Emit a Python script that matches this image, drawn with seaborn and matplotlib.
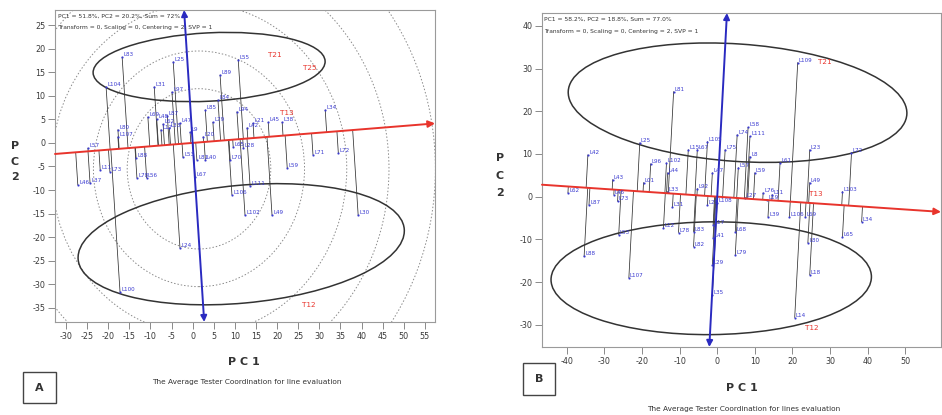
import numpy as np
import pandas as pd
import matplotlib
matplotlib.use("Agg")
import matplotlib.pyplot as plt
from matplotlib.patches import Ellipse, Circle, Rectangle
import seaborn as sns

sns.set_theme(style="white")
plt.rcParams['font.family'] = ['DejaVu Sans']
plt.rcParams['axes.unicode_minus'] = False

# ---------------- Panel A data ----------------
a_names = ["L83", "L104", "L25", "L31", "L97", "L89", "L55", "L84", "L94", "L34",
           "L80", "L107", "L69", "L48", "L62", "L87", "L17", "L33", "L47", "L9",
           "L85", "L79", "L20", "L42", "L21", "L45", "L38", "L71", "L72", "L59",
           "L70", "L65", "L28", "L111", "L106", "L40", "L53", "L67", "L81", "L88",
           "L78", "L56", "L73", "L11", "L57", "L46", "L37", "L102", "L49", "L30",
           "L24", "L100"]
a_x = [-16.7, -20.5, -4.6, -9.1, -4.9, 6.5, 10.8, 6.0, 10.5, 31.4,
       -17.7, -17.7, -10.6, -8.5, -7.0, -6.0, -7.5, -5.5, -3.0, -0.6,
       3.0, 4.8, 2.5, 12.9, 14.3, 17.9, 21.2, 28.5, 34.5, 22.4,
       8.9, 9.6, 12.0, 13.6, 9.3, 3.0, -2.3, 0.6, 1.0, -13.4,
       -13.2, -10.9, -19.6, -21.9, -24.8, -27.2, -24.3, 12.4, 18.8, 39.2,
       -3.0, -17.2]
a_y = [18.2, 11.9, 17.2, 11.9, 10.8, 14.4, 17.6, 9.1, 6.6, 7.0,
       2.8, 1.3, 5.5, 5.0, 4.0, 5.8, 2.8, 3.2, 4.2, 2.3,
       7.0, 4.4, 1.3, 3.2, 4.2, 4.4, 4.4, -2.5, -2.1, -5.3,
       -3.6, -0.8, -1.1, -9.1, -11.0, -3.6, -3.0, -7.2, -3.6, -3.1,
       -7.4, -7.4, -6.1, -5.7, -1.1, -8.9, -8.5, -15.3, -15.3, -15.3,
       -22.3, -31.6]
a_testers = ["T21", "T25", "T13", "T12"]
a_tx = [17.9, 26.2, 20.7, 25.9]
a_ty = [18.6, 15.9, 6.4, -34.3]
a_slope = 0.072
a_xlim = (-32.6, 57.4)
a_ylim = (-38.0, 28.2)
a_xticks = list(range(-30, 60, 5))
a_yticks = list(range(-35, 30, 5))
a_ell_cx = [3.9, 11.5]
a_ell_cy = [16.1, -21.5]
a_ell_w = [55.0, 77.5]
a_ell_h = [14.5, 25.0]
a_ell_ang = [2.6, 4.7]
a_circ_center = (1.5, -5.5)
a_circ_r = [17, 25, 35, 45, 56]
a_header = ["PC1 = 51.8%, PC2 = 20.2%, Sum = 72%",
            "Transform = 0, Scaling = 0, Centering = 2, SVP = 1"]
a_caption = "The Average Tester Coordination for line evaluation"

# ---------------- Panel B data ----------------
b_names = ["L109", "L81", "L25", "L42", "L58", "L74", "L111", "L105", "L75", "L15",
           "L67", "L23", "L72", "L61", "L8", "L96", "L102", "L44", "L47", "L59",
           "L57", "L43", "L01", "L49", "L62", "L46", "L73", "L103", "L92", "L33",
           "L76", "L11", "L87", "L31", "L108", "L28", "L27", "L19", "L39", "L106",
           "L69", "L34", "L53", "L12", "L78", "L83", "L82", "L17", "L41", "L68",
           "L79", "L65", "L80", "L18", "L88", "L107", "L29", "L35", "L14"]
b_x = [21.4, -11.6, -20.6, -34.4, 8.2, 5.3, 8.7, -2.6, 2.1, -7.7,
       -5.3, 24.6, 35.7, 16.7, 8.7, -17.7, -13.5, -13.2, -1.3, 10.0,
       5.6, -27.8, -19.6, 24.6, -39.7, -27.5, -26.5, 33.3, -5.3, -13.2,
       12.2, 14.6, -34.1, -11.9, 0.0, -2.6, 7.4, 13.2, 13.5, 19.2,
       23.4, 38.4, -26.2, -14.3, -10.3, -6.3, -6.3, -1.1, -1.1, 4.8,
       4.8, 33.3, 24.1, 24.6, -35.4, -23.5, -1.3, -1.3, 20.6]
b_y = [31.4, 24.6, 12.6, 9.8, 16.2, 14.5, 14.1, 12.9, 11.0, 11.0,
       11.0, 11.0, 10.3, 7.9, 9.4, 7.7, 7.9, 5.6, 5.6, 5.6,
       6.8, 4.0, 3.3, 3.3, 0.9, 0.5, -1.1, 1.2, 1.9, 1.2,
       0.9, 0.5, -1.9, -2.4, -1.4, -1.9, -0.2, -0.7, -4.7, -4.7,
       -4.7, -5.9, -8.9, -7.3, -8.4, -8.2, -11.7, -6.6, -9.6, -8.2,
       -13.6, -9.4, -10.8, -18.3, -14.0, -19.0, -15.9, -23.0, -28.3]
b_testers = ["T21", "T13", "T12"]
b_tx = [26.7, 24.3, 23.3]
b_ty = [31.6, 0.6, -30.7]
b_slope = -0.06
b_xlim = (-46.6, 59.5)
b_ylim = (-35.2, 43.0)
b_xticks = list(range(-40, 60, 10))
b_yticks = list(range(-30, 50, 10))
b_ell_cx = [5.4, -1.6]
b_ell_cy = [22.0, -19.1]
b_ell_w = [90.2, 85.2]
b_ell_h = [27.5, 26.4]
b_ell_ang = [-3.4, 0.5]
b_header = ["PC1 = 58.2%, PC2 = 18.8%, Sum = 77.0%",
            "Transform = 0, Scaling = 0, Centering = 2, SVP = 1"]
b_caption = "The Average Tester Coordination for lines evaluation"

W, H = 942, 415
fig = plt.figure(figsize=(W / 100, H / 100), dpi=100)

def fx(px):
    return px / W

def fy(py):
    return 1 - py / H

BLUE = "#3a3ad0"
RED = "#e8342c"


def draw_panel(ax, names, gx, gy, tn, tx, ty, m, xlim, ylim, xticks, yticks,
               ecx, ecy, ew, eh, eang, circ_c=None, circ_r=None):
    df = pd.DataFrame({"x": gx, "y": gy, "name": names})
    ax.set_xlim(*xlim)
    ax.set_ylim(*ylim)
    # concentric circles
    if circ_r is not None:
        for r in circ_r:
            ax.add_patch(Circle(circ_c, r, fill=False, ls=(0, (1.5, 2)),
                                lw=0.7, ec="#8a8a8a", zorder=1))
    # projection lines to the ATC abscissa
    t = (df.x + m * df.y) / (1 + m * m)
    for x0, y0, tt in zip(df.x, df.y, t):
        ax.plot([x0, tt], [y0, m * tt], color="#303030", lw=0.55, zorder=2)
    # ellipses
    for cx, cy, w, h, a in zip(ecx, ecy, ew, eh, eang):
        ax.add_patch(Ellipse((cx, cy), w, h, angle=a, fill=False,
                             ec="#333333", lw=1.1, zorder=3))
    # ATC abscissa (red) and ordinate (blue)
    ax.annotate("", xy=(xlim[1], m * xlim[1]), xytext=(xlim[0], m * xlim[0]),
                arrowprops=dict(arrowstyle="-|>", color=RED, lw=1.4,
                                mutation_scale=10, shrinkA=0, shrinkB=0),
                zorder=5, annotation_clip=False)
    ax.annotate("", xy=(-m * ylim[1], ylim[1]), xytext=(-m * ylim[0], ylim[0]),
                arrowprops=dict(arrowstyle="<|-|>", color="#2a2ac0", lw=1.4,
                                mutation_scale=9, shrinkA=0, shrinkB=0),
                zorder=5, annotation_clip=False)
    sns.scatterplot(data=df, x="x", y="y", ax=ax, s=2, color=BLUE,
                    edgecolor=None, legend=False, zorder=4)
    for x0, y0, n in zip(df.x, df.y, df.name):
        ax.text(x0 + 0.3, y0, n, color=BLUE, fontsize=4.1, ha="left",
                va="bottom", zorder=6, clip_on=True)
    for x0, y0, n in zip(tx, ty, tn):
        ax.text(x0, y0, n, color=RED, fontsize=5.2, ha="left", va="center",
                zorder=6, clip_on=True)
    ax.set_xticks(xticks)
    ax.set_yticks(yticks)
    ax.set_xlabel("")
    ax.set_ylabel("")
    for s in ax.spines.values():
        s.set_color("#9a9a9a")
        s.set_linewidth(0.8)
    ax.tick_params(direction="out", length=5, width=0.6, color="#777777",
                   labelsize=5.8, labelcolor="#3a3a3a", pad=2,
                   bottom=True, left=True)


# Panel A
axA = fig.add_axes([fx(55), fy(322), fx(435) - fx(55), fy(10) - fy(322)])
draw_panel(axA, a_names, a_x, a_y, a_testers, a_tx, a_ty, a_slope, a_xlim, a_ylim,
           a_xticks, a_yticks, a_ell_cx, a_ell_cy, a_ell_w, a_ell_h, a_ell_ang,
           a_circ_center, a_circ_r)
# Panel B
axB = fig.add_axes([fx(542), fy(347), fx(941) - fx(542), fy(13) - fy(347)])
draw_panel(axB, b_names, b_x, b_y, b_testers, b_tx, b_ty, b_slope, b_xlim, b_ylim,
           b_xticks, b_yticks, b_ell_cx, b_ell_cy, b_ell_w, b_ell_h, b_ell_ang)

# headers
for i, line in enumerate(a_header):
    fig.text(fx(58), fy(16 + 11 * i), line, fontsize=4.3, color="#333333",
             ha="left", va="center")
for i, line in enumerate(b_header):
    fig.text(fx(544), fy(19 + 12 * i), line, fontsize=4.3, color="#333333",
             ha="left", va="center")

# axis titles
fig.text(fx(244), fy(362), "P C 1", fontsize=8, fontweight="bold",
         color="#333333", ha="center", va="center")
fig.text(fx(742), fy(388), "P C 1", fontsize=8, fontweight="bold",
         color="#333333", ha="center", va="center")
for i, ch in enumerate("PC2"):
    fig.text(fx(15), fy(146 + 15.5 * i), ch, fontsize=8, fontweight="bold",
             color="#333333", ha="center", va="center")
    fig.text(fx(500), fy(158 + 17.5 * i), ch, fontsize=8, fontweight="bold",
             color="#333333", ha="center", va="center")

# captions
fig.text(fx(247), fy(382), a_caption, fontsize=5.3, color="#333333",
         ha="center", va="center")
fig.text(fx(744), fy(409), b_caption, fontsize=5.3, color="#333333",
         ha="center", va="center")

# panel letter boxes
for (x0, y0, x1, y1, lab) in [(23, 372, 56, 403, "A"), (523, 363, 555, 395, "B")]:
    fig.add_artist(Rectangle((fx(x0), fy(y1)), fx(x1) - fx(x0), fy(y0) - fy(y1),
                             transform=fig.transFigure, fill=False,
                             ec="#444444", lw=1.0))
    fig.text(fx((x0 + x1) / 2), fy((y0 + y1) / 2), lab, fontsize=8,
             fontweight="bold", color="#333333", ha="center", va="center")

fig.savefig("out.png", dpi=100)
